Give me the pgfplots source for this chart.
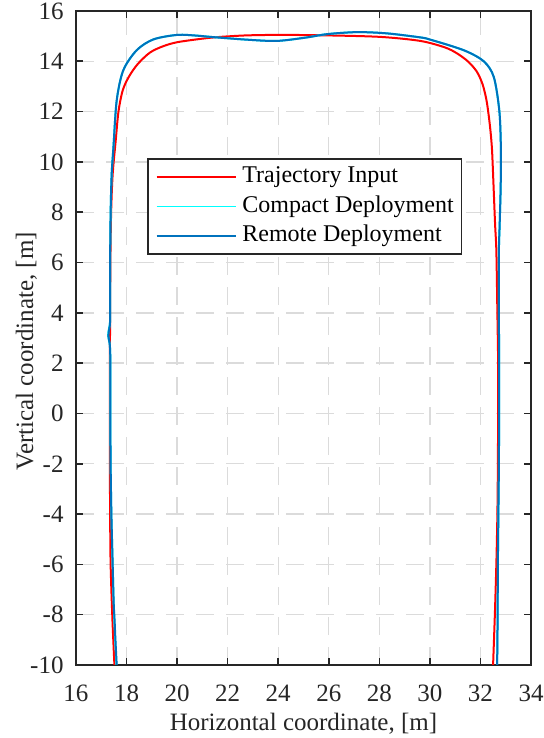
\documentclass[border=0pt]{standalone}
\usepackage{fontspec}
\setmainfont{Liberation Serif}
\newfontfamily\tnr{Liberation Serif}
\usepackage{pgfplots}
\pgfplotsset{compat=1.18}
\definecolor{mred}{rgb}{1,0,0}
\definecolor{mcyan}{rgb}{0,1,1}
\definecolor{mblue}{rgb}{0,0.447,0.741}
\definecolor{axgray}{rgb}{0.15,0.15,0.15}
\begin{document}
\begin{tikzpicture}
\begin{axis}[
 scale only axis, width=227.5pt, height=327pt,
 xmin=16, xmax=34, ymin=-10, ymax=16,
 xtick={16,18,...,34}, ytick={-10,-8,...,16},
 tick align=inside, major tick length=3.5pt,
 axis line style={axgray, line width=0.8pt},
 every tick/.style={axgray, line width=0.8pt},
 grid=major,
 major grid style={black!14, line width=0.7pt, dash pattern=on 9pt off 6pt},
 /pgf/number format/assume math mode=true,
 xticklabel={\tnr\pgfmathprintnumber[assume math mode=true]{\tick}},
 yticklabel={\tnr\pgfmathprintnumber[assume math mode=true]{\tick}},
 tick label style={font=\tnr\fontsize{12.5}{14}\selectfont, text=axgray},
 xticklabel style={yshift=-6.5pt},
 yticklabel style={xshift=-2.7pt},
 xlabel={Horizontal coordinate, [m]},
 ylabel={Vertical coordinate, [m]},
 label style={font=\tnr\fontsize{12.5}{15}\selectfont, text=axgray},
 xlabel style={at={(axis description cs:0.5,-0.1009)}, anchor=base},
 ylabel style={at={(axis description cs:-0.0945,0.48)}, anchor=base},
 legend style={at={(axis description cs:0.156,0.775)}, anchor=north west,
   draw=axgray, line width=0.8pt, fill=white,
   font=\tnr\fontsize{12}{14}\selectfont,
   inner xsep=4pt, inner ysep=3pt, row sep=2.75pt, column sep=3pt,
   nodes={inner sep=0pt, text height=9pt, text depth=3pt, anchor=west}},
 legend cell align=left,
 legend image code/.code={\draw[#1, line width=0.8pt] (0pt,0pt) -- (39.5pt,0pt);},
]
\coordinate (sw) at (rel axis cs:0,0);
\coordinate (ne) at (rel axis cs:1,1);
% Trajectory Input
\addplot[mred, line width=1pt, smooth, tension=0.5] coordinates {
(17.52,-10) (17.44,-8.16) (17.37,-6) (17.35,-4) (17.34,-2) (17.34,0)
(17.34,2) (17.35,4) (17.36,6) (17.39,8) (17.45,9.5) (17.57,10.84)
(17.68,12.0) (17.85,12.85) (18.1,13.4) (18.45,13.9) (18.93,14.35)
(19.45,14.6) (20.01,14.76) (21.0,14.9) (21.70,14.97)
(22.76,15.03) (24.08,15.05) (25.93,15.03) (28.04,14.97) (29.62,14.81)
(30.6,14.55) (31.08,14.31) (31.50,14.0) (31.85,13.6) (32.08,13.1)
(32.23,12.5) (32.32,11.9) (32.40,11.2) (32.46,10.44) (32.52,9) (32.58,7.5)
(32.63,6.44) (32.67,4) (32.70,2) (32.70,0.44) (32.69,-2) (32.67,-4)
(32.63,-5.96) (32.57,-8) (32.50,-10)
};
\addlegendentry{Trajectory Input}
% Compact Deployment
\addplot[mcyan, line width=1pt, smooth, tension=0.5] coordinates {
(17.60,-10) (17.55,-9) (17.52,-8.3) (17.49,-7.5) (17.45,-5.96)
(17.40,-4) (17.37,-2) (17.36,0) (17.36,2) (17.34,2.7) (17.27,3.1)
(17.31,3.4) (17.35,3.8) (17.35,6) (17.37,8) (17.41,9.5) (17.48,10.57)
(17.61,12.44) (17.87,13.64) (18.40,14.44) (19.06,14.87) (20.01,15.05)
(20.78,15.02) (21.44,14.96) (22.76,14.86) (23.95,14.81) (25.14,14.95)
(25.93,15.08) (27.12,15.16) (28.3,15.11) (29.62,14.95) (30.02,14.86)
(31.34,14.44) (32.13,14.0) (32.53,13.37) (32.75,12.0) (32.81,10.44)
(32.80,9) (32.76,7.5) (32.73,6.44) (32.73,4) (32.74,2) (32.74,0.44)
(32.73,-2) (32.71,-4) (32.69,-5.96) (32.68,-8) (32.66,-10)
};
\addlegendentry{Compact Deployment}
% Remote Deployment
\addplot[mblue, line width=1pt, smooth, tension=0.5] coordinates {
(17.61,-10) (17.56,-9) (17.53,-8.3) (17.49,-7.5) (17.45,-5.96)
(17.40,-4) (17.37,-2) (17.36,0) (17.36,2) (17.34,2.7) (17.28,3.1)
(17.32,3.4) (17.35,3.8) (17.35,6) (17.37,8) (17.41,9.5) (17.48,10.57)
(17.61,12.44) (17.87,13.64) (18.40,14.44) (19.06,14.87) (20.01,15.05)
(20.78,15.02) (21.44,14.96) (22.76,14.86) (23.95,14.81) (25.14,14.95)
(25.93,15.08) (27.12,15.16) (28.3,15.11) (29.62,14.95) (30.02,14.86)
(31.34,14.44) (32.13,14.0) (32.53,13.37) (32.75,12.0) (32.81,10.44)
(32.80,9) (32.76,7.5) (32.73,6.44) (32.73,4) (32.74,2) (32.74,0.44)
(32.73,-2) (32.71,-4) (32.69,-5.96) (32.68,-8) (32.66,-10)
};
\addlegendentry{Remote Deployment}
\end{axis}
\pgfresetboundingbox
\path ([xshift=-38pt,yshift=-36.5pt]sw) rectangle ([xshift=6.5pt,yshift=5.5pt]ne);
\end{tikzpicture}
\end{document}
